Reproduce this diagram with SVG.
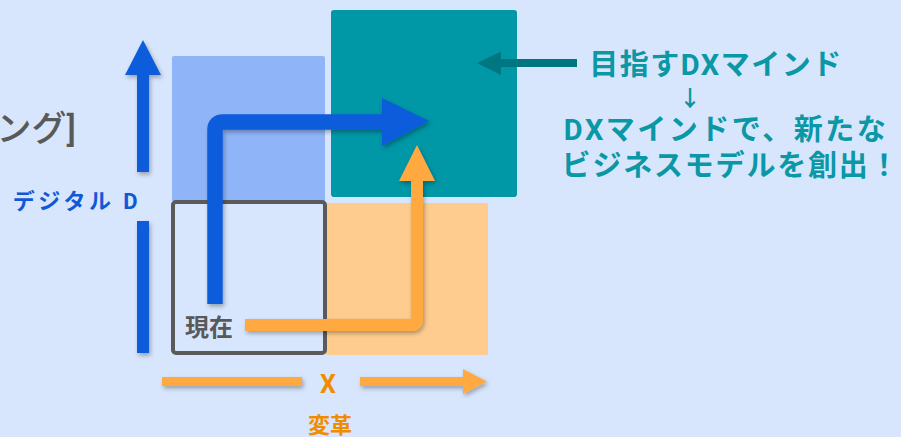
<svg xmlns="http://www.w3.org/2000/svg" width="901" height="437" viewBox="0 0 901 437">
<defs>
<filter id="sh" x="-20%" y="-20%" width="140%" height="140%">
<feDropShadow dx="1.5" dy="2.5" stdDeviation="2" flood-color="#000" flood-opacity="0.3"/>
</filter>
<style>
.t{font-family:Roboto,"Noto Sans CJK JP","Noto Sans",sans-serif;font-weight:bold}
.teal{fill:#0a97a6}
</style>
</defs>
<rect x="0" y="0" width="901" height="437" fill="#d7e6fc"/>
<g id="left-title"><text x="76" y="141" font-size="35" fill="#595959" text-anchor="end" font-family="Roboto,'Noto Sans CJK JP',sans-serif" font-weight="500">ング]</text></g>
<g id="quad-digital"><rect x="172" y="56" width="153" height="146" rx="2" fill="#8fb5f8"/></g>
<g id="quad-transform"><rect x="326" y="203" width="162" height="152" rx="2" fill="#ffcc8f"/></g>
<g id="quad-dx"><rect x="331" y="10" width="186" height="187" rx="3" fill="#0097a7"/></g>
<g id="current"><rect x="173" y="202" width="152" height="151" rx="3" fill="none" stroke="#5a5a5a" stroke-width="4"/>
<text class="t" x="209" y="336" font-size="24" fill="#595959" text-anchor="middle">現在</text></g>
<g id="connectors">
<g filter="url(#sh)">
<path d="M143 353V221M143 172V74" stroke="#0f5bdc" stroke-width="12" fill="none"/>
<polygon points="143,40 161,75 125,75" fill="#0f5bdc"/>
</g>
<g filter="url(#sh)">
<path d="M162 381.5H302M360 381.5H465" stroke="#ffa940" stroke-width="9" fill="none"/>
<polygon points="487,381.5 463,369 463,394" fill="#ffa940"/>
</g>
<g filter="url(#sh)">
<path d="M215 304V130Q215 122 223 122H385" stroke="#0f5bdc" stroke-width="15.5" fill="none"/>
<polygon points="429,121 382,98 382,146" fill="#0f5bdc"/>
</g>
<g filter="url(#sh)">
<path d="M245 325H411Q417 325 417 319V178" stroke="#ffa940" stroke-width="12" fill="none"/>
<polygon points="417,145 435,181 399,181" fill="#ffa940"/>
</g>
<g>
<path d="M577 63H498" stroke="#007680" stroke-width="8" fill="none"/>
<polygon points="477,63 501,51.5 501,75" fill="#007680"/>
</g>
</g>
<g id="labels">
<text class="t" x="77" y="209" font-size="22" fill="#1158d8" text-anchor="middle" letter-spacing="3.5">デジタル D</text>
<text class="t" x="328" y="393" font-size="25" fill="#f08c00" text-anchor="middle">X</text>
<text class="t" x="330" y="433" font-size="22" fill="#f08c00" text-anchor="middle">変革</text>
</g>
<g id="dx-note">
<text class="t teal" x="716" y="75" font-size="29" text-anchor="middle" letter-spacing="1.5">目指すDXマインド</text>
<text class="t teal" x="690" y="106" font-size="22" text-anchor="middle">↓</text>
<text class="t teal" x="726" y="140" font-size="29" text-anchor="middle" letter-spacing="2.5">DXマインドで、新たな</text>
<text class="t teal" x="731" y="176" font-size="29" text-anchor="middle" letter-spacing="1.8">ビジネスモデルを創出！</text>
</g>
</svg>
